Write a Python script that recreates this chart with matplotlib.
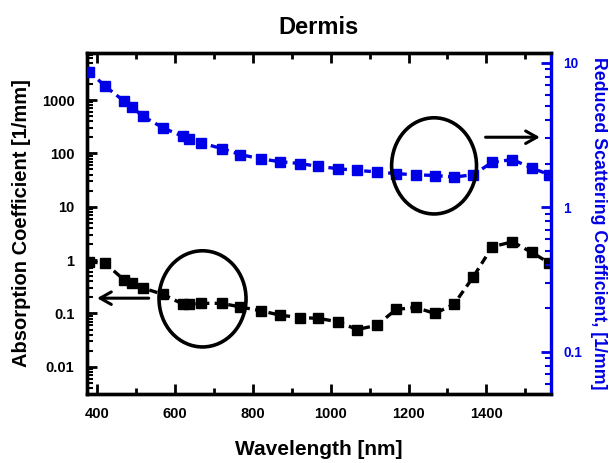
import matplotlib
matplotlib.use("Agg")
import matplotlib.pyplot as plt
from matplotlib.patches import Ellipse
from matplotlib.ticker import FixedLocator, FixedFormatter, LogLocator, NullFormatter, MultipleLocator

plt.rcParams['font.family'] = ['Liberation Sans', 'DejaVu Sans']
plt.rcParams['font.weight'] = 'bold'

# ---- data ----
wavelength = [380, 421, 470, 490, 518, 570, 620, 635, 668, 720, 767, 822, 870, 920,
              968, 1019, 1068, 1118, 1168, 1218, 1268, 1317, 1366, 1415, 1467, 1517, 1562]
absorption = [0.93, 0.87, 0.42, 0.37, 0.30, 0.227, 0.15, 0.15, 0.155, 0.155, 0.133, 0.112,
              0.093, 0.084, 0.081, 0.070, 0.050, 0.060, 0.119, 0.13, 0.10, 0.15, 0.48,
              1.78, 2.2, 1.39, 0.88]
scattering = [8.7, 6.88, 5.41, 4.93, 4.26, 3.54, 3.10, 2.99, 2.79, 2.55, 2.32, 2.16, 2.07,
              2.01, 1.92, 1.85, 1.80, 1.76, 1.71, 1.68, 1.66, 1.62, 1.68, 2.05, 2.14, 1.87, 1.68]
left_ticks = [0.01, 0.1, 1, 10, 100, 1000]
left_labels = ["0.01", "0.1", "1", "10", "100", "1000"]
right_ticks = [0.1, 1, 10]
right_labels = ["0.1", "1", "10"]
x_ticks = [400, 600, 800, 1000, 1200, 1400]

BLUE = '#0000e6'

fig = plt.figure(figsize=(6.11, 4.63), dpi=100)
ax = fig.add_axes([87/611, 69/463, 464/611, 341/463])
ax2 = ax.twinx()

ax.plot(wavelength, absorption, color='black', lw=2.4, ls=(0, (2.5, 1.6)),
        marker='s', ms=7.4, mec='black', mfc='black', clip_on=True, zorder=3)
ax2.plot(wavelength, scattering, color=BLUE, lw=2.4, ls=(0, (2.0, 1.6)),
         marker='s', ms=6.6, mec=BLUE, mfc=BLUE, clip_on=True, zorder=3)

ax.set_xlim(374, 1566)
ax.set_yscale('log')
ax.set_ylim(0.0031, 7600)
ax2.set_yscale('log')
ax2.set_ylim(0.051, 11.7)

ax.xaxis.set_major_locator(FixedLocator(x_ticks))
ax.xaxis.set_minor_locator(MultipleLocator(100))
ax.yaxis.set_major_locator(FixedLocator(left_ticks))
ax.yaxis.set_major_formatter(FixedFormatter(left_labels))
ax.yaxis.set_minor_locator(LogLocator(base=10, subs=range(2, 10), numticks=20))
ax.yaxis.set_minor_formatter(NullFormatter())

ax2.yaxis.set_major_locator(FixedLocator(right_ticks))
ax2.yaxis.set_major_formatter(FixedFormatter(right_labels))
ax2.yaxis.set_minor_locator(LogLocator(base=10, subs=range(2, 10), numticks=20))
ax2.yaxis.set_minor_formatter(NullFormatter())

ax.tick_params(axis='x', which='major', direction='in', top=True, length=7, width=2,
               labelsize=10.5, pad=9)
ax.tick_params(axis='x', which='minor', direction='in', top=True, length=4, width=2)
ax.tick_params(axis='y', which='major', direction='in', length=7, width=2,
               labelsize=10.5, pad=9)
ax.tick_params(axis='y', which='minor', direction='in', length=4, width=1.5)
ax2.tick_params(axis='y', which='major', direction='in', length=7, width=2,
                labelsize=9.8, pad=9, colors=BLUE)
ax2.tick_params(axis='y', which='minor', direction='in', length=4, width=1.5, colors=BLUE)

for sp in ['left', 'bottom', 'top']:
    ax.spines[sp].set_linewidth(2.4)
    ax2.spines[sp].set_linewidth(2.4)
ax.spines['right'].set_visible(False)
ax2.spines['right'].set_linewidth(2.4)
ax2.spines['right'].set_color(BLUE)
ax2.spines['left'].set_color('black')

for lab in ax.get_xticklabels() + ax.get_yticklabels() + ax2.get_yticklabels():
    lab.set_fontweight('bold')

ax.set_xlabel('Wavelength [nm]', fontsize=15, fontweight='bold', labelpad=14)
ax.set_ylabel('Absorption Coefficient [1/mm]', fontsize=14.5, fontweight='bold', labelpad=8)
ax2.set_ylabel('Reduced Scattering Coefficient, [1/mm]', fontsize=12.8, fontweight='bold',
               color=BLUE, rotation=270, labelpad=18)
ax.set_title('Dermis', fontsize=17, fontweight='bold', pad=14)

# annotations: ellipses and arrows (axes fraction)
ax2.add_patch(Ellipse((0.748, 0.669), 0.183, 0.282, transform=ax.transAxes,
                      fill=False, ec='black', lw=2.6, zorder=5, clip_on=False))
ax2.add_patch(Ellipse((0.249, 0.279), 0.1875, 0.282, transform=ax.transAxes,
                      fill=False, ec='black', lw=2.6, zorder=5, clip_on=False))
ax2.annotate('', xy=(0.982, 0.753), xytext=(0.853, 0.753), xycoords=ax.transAxes,
             textcoords=ax.transAxes,
             arrowprops=dict(arrowstyle='->,head_length=0.8,head_width=0.45', lw=2.2, color='black'))
ax2.annotate('', xy=(0.0157, 0.281), xytext=(0.139, 0.281), xycoords=ax.transAxes,
             textcoords=ax.transAxes,
             arrowprops=dict(arrowstyle='->,head_length=0.8,head_width=0.45', lw=2.2, color='black'))

fig.savefig('out.png', dpi=100)
